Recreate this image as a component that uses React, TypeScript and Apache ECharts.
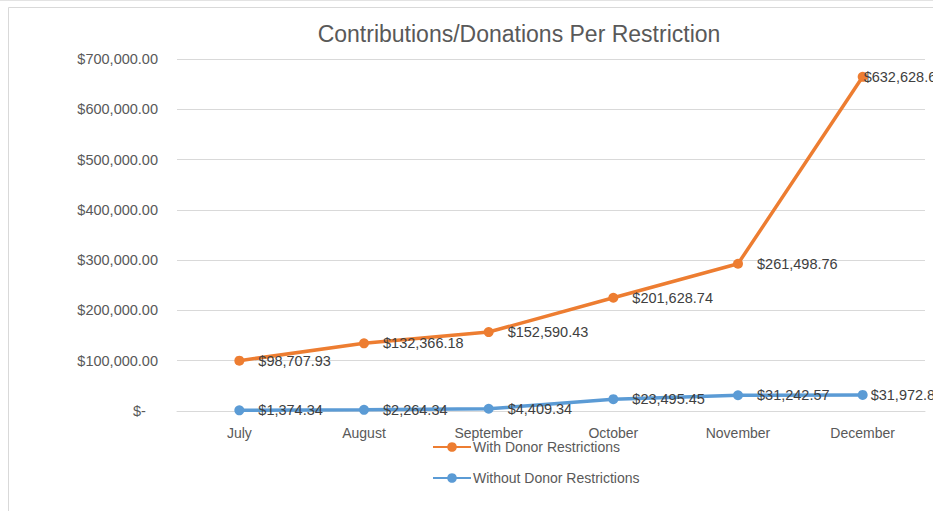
import React, { useEffect, useRef } from "react";
import * as echarts from "echarts";

const months = ["July", "August", "September", "October", "November", "December"];
const withDonor = [98707.93, 132366.18, 152590.43, 201628.74, 261498.76, 632628.6];
const withoutDonor = [1374.34, 2264.34, 4409.34, 23495.45, 31242.57, 31972.8];
const seriesNames = ["With Donor Restrictions", "Without Donor Restrictions"];
const titleText = "Contributions/Donations Per Restriction";

const FONT = "'Liberation Sans', Arial, sans-serif";

function money(v: number): string {
  return "$" + v.toLocaleString("en-US", { minimumFractionDigits: 2, maximumFractionDigits: 2 });
}

export default function App() {
  const ref = useRef<HTMLDivElement>(null);
  useEffect(() => {
    if (!ref.current) return;
    const chart = echarts.init(ref.current, null, { renderer: "svg" });
    const labelCfg = {
      show: true,
      position: "right" as const,
      distance: 14,
      color: "#404040",
      fontSize: 14.5,
      fontFamily: FONT,
      formatter: (p: any) => money(p.value),
    };
    const withEdge = (arr: number[], dist: number) =>
      arr.map((v, i) => (i === arr.length - 1 ? { value: v, label: { distance: dist } } : v));
    chart.setOption({
      animation: false,
      backgroundColor: "#ffffff",
      textStyle: { fontFamily: FONT },
      title: {
        text: titleText,
        left: 514,
        textAlign: "center",
        top: 17,
        textStyle: { fontSize: 23, fontWeight: "normal", color: "#595959", fontFamily: FONT },
      },
      graphic: [
        { type: "line", shape: { x1: 0, y1: 0.5, x2: 933, y2: 0.5 }, style: { stroke: "#e3e3e3", lineWidth: 1 } },
        { type: "rect", shape: { x: 8.5, y: 7.5, width: 960, height: 540 }, style: { fill: "none", stroke: "#d9d9d9", lineWidth: 1 } },
      ],
      legend: {
        data: seriesNames,
        orient: "vertical",
        left: 432,
        top: 440,
        padding: 0,
        itemWidth: 38,
        itemHeight: 12,
        itemGap: 17,
        textStyle: { color: "#595959", fontSize: 14, fontFamily: FONT, padding: [0, 0, 0, -3] },
      },
      grid: { left: 177, right: 8, top: 59, bottom: 100, containLabel: false },
      xAxis: {
        type: "category",
        data: months,
        boundaryGap: true,
        axisLine: { show: true, lineStyle: { color: "#d9d9d9" } },
        axisTick: { show: false },
        axisLabel: { color: "#595959", fontSize: 14, fontFamily: FONT, margin: 15 },
      },
      yAxis: {
        type: "value",
        min: 0,
        max: 700000,
        interval: 100000,
        axisLine: { show: false },
        axisTick: { show: false },
        splitLine: { lineStyle: { color: "#d9d9d9" } },
        axisLabel: {
          color: "#595959",
          fontSize: 14.5,
          fontFamily: FONT,
          margin: 19,
          formatter: (v: number) => (v === 0 ? "$-\u00a0\u00a0\u00a0" : money(v)),
        },
      },
      series: [
        {
          name: seriesNames[1],
          type: "line",
          stack: "total",
          data: withEdge(withoutDonor, 3),
          color: "#5B9BD5",
          lineStyle: { width: 3.5, color: "#5B9BD5" },
          symbol: "circle",
          symbolSize: 10,
          itemStyle: { color: "#5B9BD5" },
          label: labelCfg,
        },
        {
          name: seriesNames[0],
          type: "line",
          stack: "total",
          data: withEdge(withDonor, -4),
          color: "#ED7D31",
          lineStyle: { width: 3.5, color: "#ED7D31" },
          symbol: "circle",
          symbolSize: 10,
          itemStyle: { color: "#ED7D31" },
          label: labelCfg,
        },
      ],
    });
    return () => chart.dispose();
  }, []);
  return (
    <div
      ref={ref}
      style={{ position: "absolute", left: 0, top: 0, width: 933, height: 511, overflow: "hidden" }}
    />
  );
}
